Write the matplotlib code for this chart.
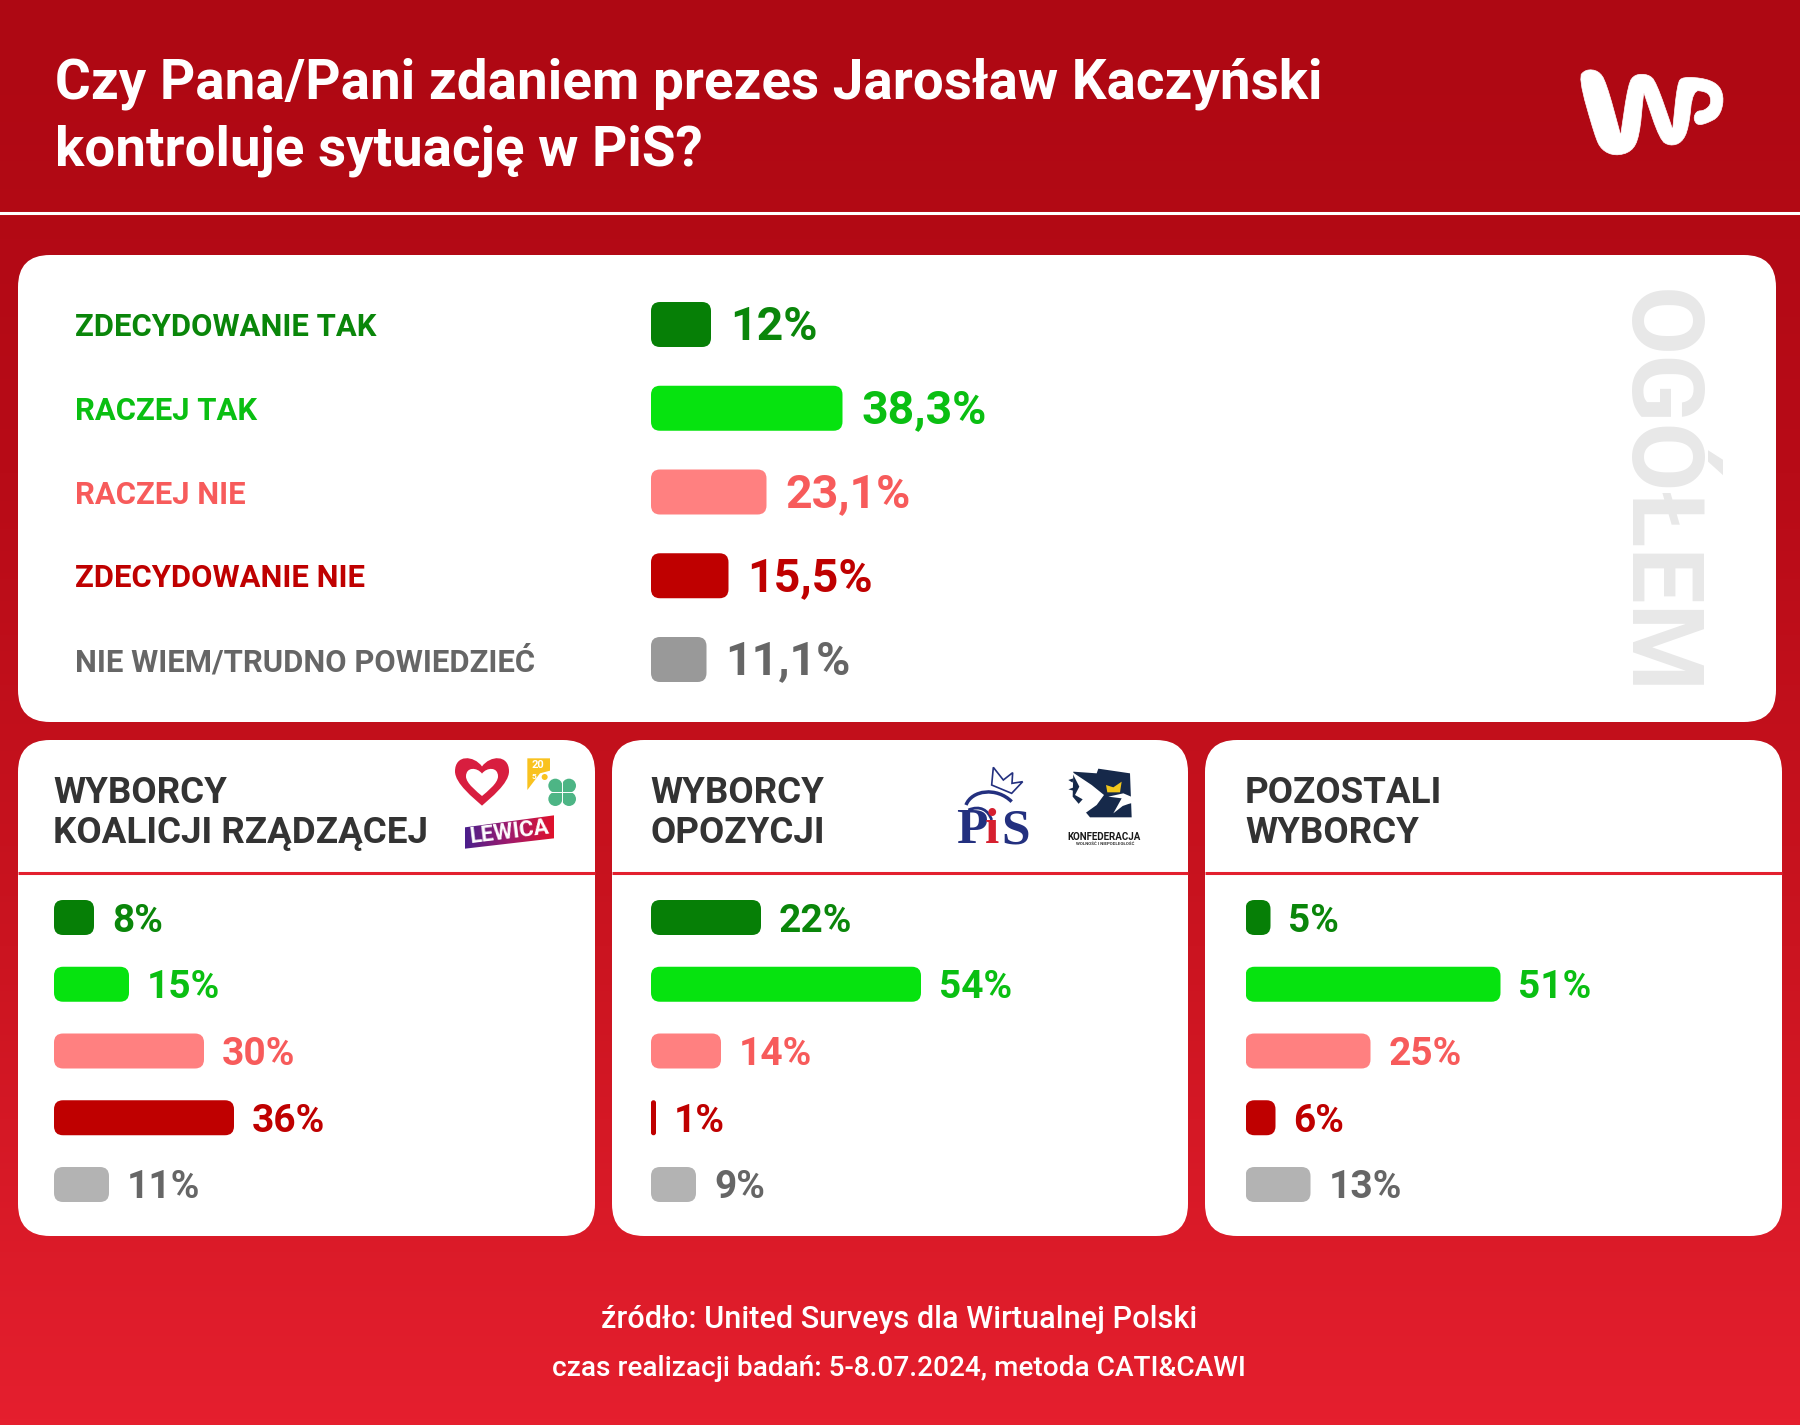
import numpy as np
import matplotlib
matplotlib.use("Agg")
import matplotlib.pyplot as plt
from matplotlib.patches import Circle, FancyBboxPatch, PathPatch, Polygon
from matplotlib.path import Path
from matplotlib.colors import LinearSegmentedColormap

W, H = 1800, 1425
PX_PER_PCT = 5.0

TITLE = "Czy Pana/Pani zdaniem prezes Jarosław Kaczyński\nkontroluje sytuację w PiS?"
SOURCE_1 = "źródło: United Surveys dla Wirtualnej Polski"
SOURCE_2 = "czas realizacji badań: 5-8.07.2024, metoda CATI&CAWI"

categories = [
    "ZDECYDOWANIE TAK",
    "RACZEJ TAK",
    "RACZEJ NIE",
    "ZDECYDOWANIE NIE",
    "NIE WIEM/TRUDNO POWIEDZIEĆ",
]
overall = [12, 38.3, 23.1, 15.5, 11.1]
coalition = [8, 15, 30, 36, 11]
opposition = [22, 54, 14, 1, 9]
others = [5, 51, 25, 6, 13]

bar_colors = ["#067F06", "#06E30F", "#FF8080", "#BF0000", "#999999"]
bar_colors_small = ["#067F06", "#06E30F", "#FF8080", "#BF0000", "#B3B3B3"]
text_colors = ["#0A860A", "#0ABF12", "#F75B5B", "#BF0000", "#666666"]

SANS = ["Roboto", "DejaVu Sans"]
SERIF = ["Liberation Serif", "DejaVu Serif"]
plt.rcParams["font.family"] = SANS


def px_axes(fig, x0, top, w, h, zorder=2):
    ax = fig.add_axes([x0 / W, 1 - (top + h) / H, w / W, h / H], zorder=zorder)
    ax.patch.set_alpha(0)
    ax.axis("off")
    return ax


def draw_bars(fig, x0, first_row, row_step, bar_h, values, colors, fontsize, gap, radius, dy):
    # axis runs in percent, rows in row numbers
    top = first_row - row_step / 2
    w = 1000
    ax = px_axes(fig, x0, top, w, row_step * len(values))
    ax.set_xlim(0, w / PX_PER_PCT)
    ax.set_ylim(len(values) - 0.5, -0.5)
    frac = bar_h / row_step
    for i, v in enumerate(values):
        r = min(radius, v * PX_PER_PCT / 2 * 0.99) / PX_PER_PCT
        aspect = (1 / row_step) * PX_PER_PCT
        ax.add_patch(FancyBboxPatch(
            (0, i - frac / 2), v, frac,
            boxstyle=f"round,pad=0,rounding_size={r}",
            mutation_aspect=aspect, fc=colors[i], ec="none",
        ))
        label = str(v).replace(".", ",") + "%"
        ax.annotate(label, xy=(v, i), xytext=(gap, -dy), textcoords="offset pixels",
                    ha="left", va="center", color=text_colors[i],
                    fontsize=fontsize, fontweight="bold")
    return ax


def card(ax, x0, y0, x1, y1, r=32):
    ax.add_patch(FancyBboxPatch((x0 + r, y0 + r), x1 - x0 - 2 * r, y1 - y0 - 2 * r,
                                boxstyle=f"round,pad={r},rounding_size={r}",
                                fc="white", ec="none"))


def smooth(pts, rounds=3):
    # corner cutting so the hand-read outlines come out round
    pts = np.asarray(pts, float)
    for _ in range(rounds):
        nxt = np.roll(pts, -1, axis=0)
        pts = np.column_stack([0.75 * pts + 0.25 * nxt, 0.25 * pts + 0.75 * nxt]).reshape(-1, 2)
    return pts


def draw_wp_logo(ax):
    # notch points repeated so they stay sharp
    pts = [(235, 112), (258, 88), (295, 92), (318, 125), (362, 285), (362, 290), (362, 285), (385, 130), (405, 103),
           (445, 103), (468, 125), (518, 268), (518, 272), (518, 268), (532, 130), (548, 110), (620, 116), (660, 138),
           (672, 180), (658, 230), (620, 250), (592, 256), (580, 235), (590, 213), (612, 212),
           (632, 195), (632, 170), (618, 155), (578, 150), (566, 265), (545, 308), (510, 318),
           (480, 300), (434, 165), (432, 158), (430, 165), (418, 290), (395, 335), (345, 348), (305, 330), (285, 290)]
    pts = [(1500 + x / 3, 40 + y / 3) for x, y in smooth(pts, 2)]
    ax.add_patch(Polygon(pts, closed=True, fc="white", ec="white", lw=0.5, joinstyle="round"))


def draw_coalition_logos(ax):
    def z(x, y):
        return 420 + x / 3, 740 + y / 3

    # heart
    def heart(cx, top, bottom, half):
        h = bottom - top
        verts = [(cx, top + 0.2 * h),
                 (cx - 0.3 * half, top - 0.03 * h), (cx - half, top - 0.05 * h), (cx - half, top + 0.3 * h),
                 (cx - half, top + 0.55 * h), (cx - 0.3 * half, top + 0.85 * h), (cx, bottom),
                 (cx + 0.3 * half, top + 0.85 * h), (cx + half, top + 0.55 * h), (cx + half, top + 0.3 * h),
                 (cx + half, top - 0.05 * h), (cx + 0.3 * half, top - 0.03 * h), (cx, top + 0.2 * h)]
        codes = [Path.MOVETO] + [Path.CURVE4] * 12
        return Path(verts, codes)

    cx, t = z(186, 50)
    _, b = z(186, 197)
    ax.add_patch(PathPatch(heart(cx, t, b, 27), fc="#D81E3F", ec="none"))
    _, t2 = z(186, 84)
    _, b2 = z(186, 168)
    ax.add_patch(PathPatch(heart(cx, t2, b2, 16), fc="white", ec="none"))

    # 2050 mark
    ax.add_patch(Polygon([z(322, 55), z(390, 55), z(390, 92), z(360, 100), z(322, 150)],
                         closed=True, fc="#F9C21F", ec="none"))
    ax.text(*z(355, 74), "20", color="white", fontsize=8, fontweight="bold", ha="center", va="center")
    ax.text(*z(342, 108), "5", color="white", fontsize=6, fontweight="bold", ha="center", va="center")
    ax.add_patch(Circle(z(374, 111), 3, fc="#F9C21F", ec="none"))

    # clover
    ax.add_patch(Circle(z(427, 157), 9, fc="#4DB585", ec="none"))
    for x, y in [(406, 137), (447, 137), (406, 177), (447, 177)]:
        ax.add_patch(Circle(z(x, y), 7, fc="#4DB585", ec="none"))
    ax.plot(*zip(z(427, 118), z(427, 198)), color="white", lw=0.7)
    ax.plot(*zip(z(387, 157), z(467, 157)), color="white", lw=0.7)

    # Lewica banner
    corners = [z(135, 262), z(402, 226), z(402, 295), z(135, 326)]
    cmap = LinearSegmentedColormap.from_list("lewica", ["#4B1F8C", "#A01A6C", "#E0112B"])
    x0, y0 = z(135, 226)
    x1, y1 = z(402, 326)
    im = ax.imshow(np.linspace(0, 1, 64)[None, :], cmap=cmap, aspect="auto",
                   extent=(x0, x1, y1, y0), zorder=3)
    im.set_clip_path(Polygon(corners, closed=True, transform=ax.transData))
    ax.text(*z(270, 277), "LEWICA", color="white", fontsize=16, fontweight="bold",
            ha="center", va="center", rotation=7, rotation_mode="anchor", zorder=4)


def draw_opposition_logos(ax):
    def z(x, y):
        return 900 + x / 3, 730 + y / 3

    navy = "#23307F"
    # PiS
    ax.text(*z(168, 340), "P", color=navy, family=SERIF, fontsize=37, fontweight="bold", ha="left", va="baseline")
    ax.text(*z(254, 340), "i", color="#D6202F", family=SERIF, fontsize=37, fontweight="bold", ha="left", va="baseline")
    ax.text(*z(304, 340), "S", color=navy, family=SERIF, fontsize=37, fontweight="bold", ha="left", va="baseline")
    ax.add_patch(Polygon([z(280, 112), z(310, 150), z(338, 128), z(336, 160), z(368, 155), z(335, 190),
                          z(275, 165)], closed=True, fc="white", ec=navy, lw=1.2))
    ax.add_patch(PathPatch(Path([z(198, 225), z(215, 180), z(290, 170), z(335, 215)],
                                [Path.MOVETO, Path.CURVE4, Path.CURVE4, Path.CURVE4]),
                           fc="none", ec=navy, lw=2.5))
    ax.add_patch(PathPatch(Path([z(205, 240), z(240, 225), z(265, 240), z(275, 270)],
                                [Path.MOVETO, Path.CURVE4, Path.CURVE4, Path.CURVE4]),
                           fc="none", ec=navy, lw=2))

    # Konfederacja
    dark = "#16294A"
    ax.add_patch(Polygon([z(520, 125), z(590, 130), z(595, 116), z(690, 130), z(695, 262), z(570, 262),
                          z(518, 200)], closed=True, fc=dark, ec="none"))
    ax.add_patch(Polygon([z(515, 125), z(575, 165), z(612, 195), z(590, 225), z(555, 250), z(530, 228),
                          z(548, 208), z(525, 195), z(538, 170)], closed=True, fc="white", ec="none"))
    ax.add_patch(Polygon([z(640, 250), z(665, 205), z(625, 200), z(670, 190), z(722, 212), z(685, 222),
                          z(668, 228)], closed=True, fc="white", ec="none"))
    ax.add_patch(Polygon([z(505, 150), z(520, 145), z(518, 158)], closed=True, fc=dark, ec="none"))
    ax.add_patch(Polygon([z(505, 178), z(522, 172), z(520, 182)], closed=True, fc=dark, ec="none"))
    ax.add_patch(Polygon([z(618, 165), z(640, 172), z(665, 155), z(660, 187), z(622, 187)],
                         closed=True, fc="#F2C71C", ec="none"))
    ax.text(*z(612, 322), "KONFEDERACJA", color="#1A1A1A", fontsize=7, fontweight="bold", ha="center", va="center")
    ax.text(*z(615, 342), "WOLNOŚĆ I NIEPODLEGŁOŚĆ", color="#333333", fontsize=3.2, fontweight="bold",
            ha="center", va="center")


def main():
    fig = plt.figure(figsize=(W / 100, H / 100), dpi=100)

    bg = fig.add_axes([0, 0, 1, 1], zorder=0)
    bg.axis("off")
    grad = LinearSegmentedColormap.from_list("bg", ["#AE0813", "#B80B17", "#CB1420", "#E51F2E"])
    bg.imshow(np.linspace(0, 1, 256)[:, None], cmap=grad, aspect="auto")

    ov = fig.add_axes([0, 0, 1, 1], zorder=1)
    ov.patch.set_alpha(0)
    ov.axis("off")

    # header
    ov.plot([0, W], [213, 213], color="white", lw=2.2)
    ov.text(55, 84, TITLE.split("\n")[0], color="white", fontsize=39.4, fontweight="bold", ha="left", va="center")
    ov.text(55, 151, TITLE.split("\n")[1], color="white", fontsize=39.4, fontweight="bold", ha="left", va="center")
    draw_wp_logo(ov)

    # cards
    card(ov, 18, 255, 1776, 722)
    panels = [
        (18, 595, 53, "WYBORCY", "KOALICJI RZĄDZĄCEJ"),
        (612, 1188, 650, "WYBORCY", "OPOZYCJI"),
        (1205, 1782, 1245, "POZOSTALI", "WYBORCY"),
    ]
    for x0, x1, tx, line1, line2 in panels:
        card(ov, x0, 740, x1, 1236)
        ov.plot([x0, x1], [873, 873], color="#E3202E", lw=2.2, solid_capstyle="butt")
        ov.text(tx, 803, line1, color="#333333", fontsize=26.5, fontweight="bold", va="baseline")
        ov.text(tx, 843, line2, color="#333333", fontsize=26.5, fontweight="bold", va="baseline")

    ov.text(1655, 492, "OGÓŁEM", color="#E8E8E8", fontsize=72, fontweight="bold", rotation=-90,
            ha="center", va="center")

    draw_coalition_logos(ov)
    draw_opposition_logos(ov)

    ov.text(899, 1320, SOURCE_1, color="white", fontsize=22.1, fontweight="medium", ha="center", va="center")
    ov.text(899, 1368, SOURCE_2, color="white", fontsize=20.2, fontweight="medium", ha="center", va="center")

    ov.set_xlim(0, W)
    ov.set_ylim(H, 0)

    # bars
    ax_top = draw_bars(fig, 651, 324.5, 83.75, 45, overall, bar_colors, 33.5, 19, 9, 2)
    for i, cat in enumerate(categories):
        ax_top.annotate(cat, xy=(0, i), xytext=(75 - 651, -2.5), textcoords="offset pixels",
                        ha="left", va="center", color=text_colors[i], fontsize=22.3, fontweight="bold")
    draw_bars(fig, 54, 917.5, 66.75, 35, coalition, bar_colors_small, 28, 18, 9, 3.5)
    draw_bars(fig, 651, 917.5, 66.75, 35, opposition, bar_colors_small, 28, 18, 9, 3.5)
    draw_bars(fig, 1245.5, 917.5, 66.75, 35, others, bar_colors_small, 28, 18, 9, 3.5)

    fig.savefig("out.png", dpi=100)


if __name__ == "__main__":
    main()
